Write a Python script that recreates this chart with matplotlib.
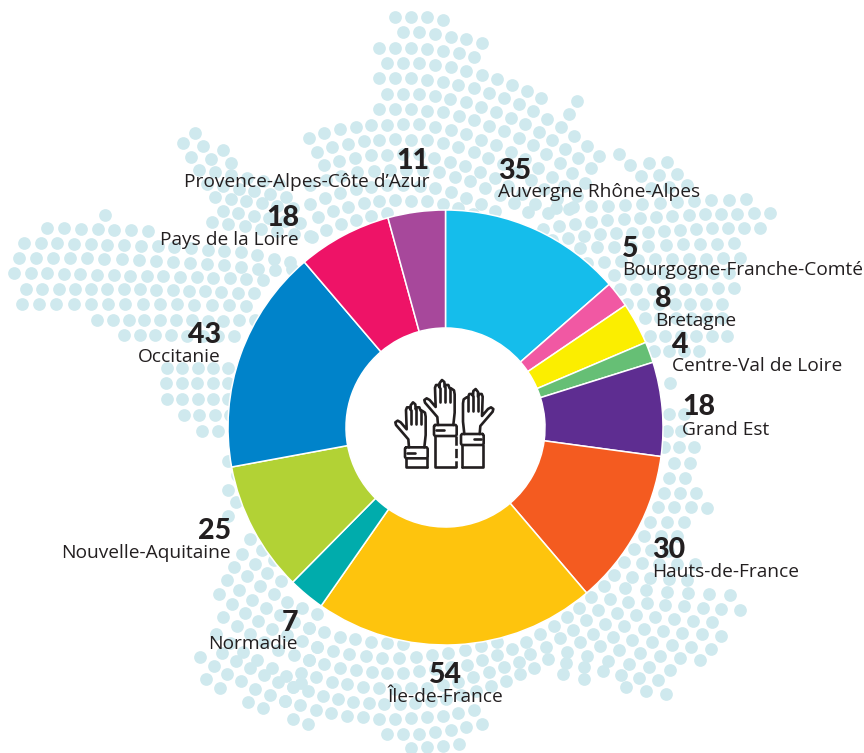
import numpy as np
import matplotlib
matplotlib.use("Agg")
import matplotlib.pyplot as plt

plt.rcParams['font.family'] = ['Open Sans', 'DejaVu Sans']

regions = ["Auvergne Rhône-Alpes", "Bourgogne-Franche-Comté", "Bretagne", "Centre-Val de Loire",
           "Grand Est", "Hauts-de-France", "Île-de-France", "Normadie", "Nouvelle-Aquitaine",
           "Occitanie", "Pays de la Loire", "Provence-Alpes-Côte d’Azur"]
values = [35, 5, 8, 4, 18, 30, 54, 7, 25, 43, 18, 11]
colors = ["#15BDEB", "#F158A3", "#FBEE00", "#66BF75", "#5E2D91", "#F45B20",
          "#FEC40D", "#00ACAC", "#B2D235", "#0083CA", "#EE1367", "#A7489B"]

# label anchor: x, baseline of number, baseline of name, alignment
label_pos = [(498, 179, 197, "left"), (622, 257, 275, "left"), (655, 307, 326, "left"),
             (672, 353, 371, "left"), (682, 415, 435, "left"), (652, 558, 577, "left"),
             (445, 683, 702, "center"), (298, 631, 649, "right"), (231, 539, 558, "right"),
             (221, 343, 362, "right"), (299, 226, 245, "right"), (429, 169, 187, "right")]

# background dots (France shape)
dot_rows = [
    # top
    [(395, 17), (427, 17), (443, 20)],
    [(403, 32), (419, 32), (436, 34), (451, 37), (466, 39), (482, 43)],
    [(379, 48), (411, 48), (427, 49), (443, 51), (459, 53), (474, 57)],
    [(387, 63), (419, 63), (436, 65), (451, 67), (466, 71), (482, 75), (497, 79), (512, 85), (527, 91), (541, 98)],
    [(379, 78), (411, 78), (443, 82), (474, 88), (504, 98), (534, 111), (561, 127), (587, 146), (599, 156)],
    [(387, 94), (419, 94), (436, 96), (466, 102), (497, 112), (526, 124), (554, 141), (579, 159), (591, 168)],
    [(379, 109), (411, 109), (443, 112), (474, 120), (504, 131), (533, 145), (559, 163), (585, 183)],
    [(309, 138), (324, 133), (340, 129), (371, 125), (419, 124), (436, 127), (466, 134), (496, 145), (525, 159), (551, 176), (577, 196)],
    [(317, 152), (332, 147), (363, 141), (395, 139), (427, 140), (443, 143), (474, 152), (503, 164), (531, 180), (557, 199), (569, 209)],
    [(324, 165), (340, 161), (371, 155), (419, 154), (436, 158), (466, 166), (495, 178), (522, 194), (548, 213)],
    [(310, 185), (325, 180), (356, 172), (387, 170), (419, 170), (443, 173), (473, 182), (501, 195), (528, 212)],
    [(310, 204), (325, 198), (340, 193), (364, 187), (395, 185), (427, 186), (451, 192), (481, 204), (495, 211)],
    [(318, 217), (333, 211), (363, 203), (395, 200), (427, 201), (459, 208), (473, 214)],
    [(312, 237), (326, 230), (340, 224), (372, 216), (387, 213)],
    # bottom
    [(309, 628), (340, 637), (371, 642), (403, 644)],
    [(317, 647), (347, 654), (379, 658), (411, 658), (443, 654), (474, 648), (497, 642)],
    [(309, 660), (340, 668), (371, 672), (403, 673), (436, 669), (466, 665), (497, 655)],
    [(301, 673), (332, 682), (363, 687), (395, 689), (427, 688), (459, 682), (490, 671), (519, 662)],
    [(293, 687), (324, 696), (355, 702), (387, 704), (419, 703), (451, 698), (482, 690), (512, 678), (534, 668)],
    [(285, 701), (316, 710), (347, 716), (379, 719), (411, 718), (443, 716), (474, 710)],
    [(293, 719), (308, 724)],
    [(387, 734), (419, 734), (451, 730), (482, 724)],
    [(411, 748), (443, 746), (459, 744)],
    # lower left
    [(200, 657), (227, 674), (256, 689), (285, 701)],
    [(206, 679), (220, 688)],
    [(248, 702), (263, 708)],
    [(222, 653), (249, 668), (278, 682), (293, 687)],
    [(216, 634), (243, 652), (271, 668), (301, 683)],
    [(223, 617), (250, 634), (278, 650), (309, 660)],
    [(219, 594), (244, 613), (272, 629), (317, 647)],
    [(227, 580), (252, 600), (279, 615), (309, 628)],
    [(234, 567), (260, 586), (287, 602), (317, 614)],
    [(242, 554), (267, 573), (281, 581)],
    [(250, 539), (274, 560)],
]
left_rows = [
    [(183, 143), (203, 146), (223, 150)],
    [(191, 157), (211, 159), (231, 163)],
    [(199, 170), (219, 173), (259, 180), (279, 184)],
    [(207, 184), (246, 190), (286, 197)],
    [(215, 197), (254, 202), (293, 208)],
    [(223, 211), (262, 217), (300, 223)],
    [(212, 222), (250, 227), (310, 236)],
    [(47, 228), (97, 229), (148, 231)],
    [(24, 243), (57, 243), (90, 244), (123, 245), (157, 246), (240, 252), (290, 262)],
    [(19, 258), (46, 258), (78, 258), (110, 259), (143, 260), (193, 263), (245, 267), (263, 270), (292, 269)],
    [(14, 273), (46, 273), (78, 274), (110, 275), (143, 276), (193, 277), (245, 279), (263, 280)],
    [(26, 289), (73, 289), (121, 289), (170, 290), (220, 292), (254, 293)],
    [(22, 304), (69, 304), (116, 304), (164, 304), (213, 305), (246, 306)],
    [(97, 320), (128, 320), (191, 320), (223, 321), (255, 320)],
    [(124, 335), (156, 335), (187, 336), (234, 336)],
    [(167, 368), (228, 368)],
    [(166, 383), (228, 383)],
    [(167, 399), (228, 399)],
    [(184, 415), (230, 415)],
    [(202, 431), (218, 431)],
    # right shoulder
    [(619, 154), (630, 165), (641, 177), (651, 188)],
    [(649, 163), (659, 175), (669, 187)],
    [(667, 162), (677, 174), (687, 185)],
    [(556, 208), (600, 206), (640, 204), (680, 202), (713, 200), (746, 199)],
    [(543, 229), (579, 223), (616, 219), (651, 217), (686, 215), (720, 214), (770, 213)],
    [(552, 240), (589, 235), (624, 233), (659, 231), (694, 229), (727, 228), (760, 228)],
    [(580, 248), (614, 247), (650, 246), (684, 244), (717, 244), (734, 243)],
    [(587, 263), (622, 261), (657, 259), (690, 259), (723, 258), (740, 258)],
    [(614, 275), (665, 273), (729, 273)],
    [(620, 289), (670, 289), (734, 288)],
    [(627, 304), (722, 304)],
    [(645, 318), (722, 318)],
    [(650, 336), (727, 336)],
    [(654, 351), (699, 351)],
    # right side
    [(669, 414), (684, 414)],
    [(667, 431), (681, 431)],
    [(664, 447), (694, 447)],
    [(674, 463), (690, 463)],
    [(669, 478), (685, 478)],
    [(664, 493), (696, 493)],
    [(658, 507), (690, 507), (707, 508)],
    [(650, 522), (684, 522)],
    [(644, 536), (677, 536)],
    [(634, 549), (668, 551)],
    [(624, 562), (660, 564), (695, 564)],
    [(614, 575), (650, 578), (687, 580)],
]
# lower right fan, dots sit further apart here
fan_rows = [
    [(604, 586), (640, 589), (677, 593), (730, 595)],
    [(591, 597), (630, 602), (667, 605), (704, 608), (740, 610)],
    [(579, 608), (619, 613), (657, 617), (694, 621), (712, 622)],
    [(567, 617), (607, 624), (646, 629), (684, 633), (721, 636)],
    [(554, 626), (595, 634), (635, 640), (673, 645), (711, 649)],
    [(540, 634), (582, 643), (623, 651), (662, 656), (700, 660)],
    [(526, 642), (569, 652), (610, 661), (650, 667), (670, 670)],
    [(512, 649), (555, 661), (597, 670), (638, 678), (658, 680)],
    [(563, 674), (584, 679)],
    [(626, 687), (646, 691), (666, 694)],
]
single_dots = [(195, 133), (105, 215), (577, 101), (569, 114), (228, 461), (670, 383), (237, 475), (228, 490), (236, 502), (228, 516)]


def resample(pts, step=16.2):
    pts = np.array(pts, dtype=float)
    d = np.r_[0, np.cumsum(np.hypot(*np.diff(pts, axis=0).T))]
    n = max(int(round(d[-1] / step)) + 1, 2)
    t = np.linspace(0, d[-1], n)
    return np.interp(t, d, pts[:, 0]), np.interp(t, d, pts[:, 1])


# one hand with cuff and sleeve, coordinates from the zoomed icon
hand_outline = [(117, 262), (115, 238), (78, 195), (76, 187), (83, 182), (92, 187), (110, 208), (108, 150),
                (111, 142), (118, 142), (122, 150), (122, 136), (129, 127), (136, 133), (137, 148), (141, 142),
                (148, 142), (152, 152), (156, 152), (165, 158), (167, 170), (167, 225), (163, 262)]
hand_fingers = [[(122, 150), (122, 192)], [(137, 148), (137, 192)], [(152, 152), (152, 192)]]
cuff = [(108, 262), (170, 262), (173, 266), (173, 291), (170, 295), (108, 295), (105, 291), (105, 266), (108, 262)]
cuff_mark = [(112, 278), (134, 278)]

fig = plt.figure(figsize=(8.64, 7.53), dpi=100)
ax = fig.add_axes([0, 0, 1, 1])

for rows, step in [(dot_rows, 16.0), (left_rows, 16.6), (fan_rows, 19.6)]:
    for row in rows:
        xs, ys = resample(row, step)
        ax.scatter(xs, ys, s=84, color="#CFE9EE", linewidths=0, zorder=1)
ax.scatter(*zip(*single_dots), s=84, color="#CFE9EE", linewidths=0, zorder=1)

wedges, _ = ax.pie(values, colors=colors, startangle=-90, counterclock=True, radius=217.5,
                   center=(445.5, 427.5), wedgeprops=dict(width=118, edgecolor="white", linewidth=1.1))
for w in wedges:
    w.set_zorder(2)


def icon_line(pts, mirror=False, dx=0, dy=0, **kw):
    pts = np.array(pts, dtype=float)
    x = pts[:, 0]
    if mirror:
        x = 446 - x
    ax.plot(370 + (x + dx) / 3, 360 + (pts[:, 1] + dy) / 3, color="#231F20", lw=1.9,
            solid_capstyle="round", solid_joinstyle="round", zorder=4, **kw)


for mirror, dx, dy, tall in [(False, 0, 0, 0), (False, 87, -67, 67), (True, 0, -40, 40)]:
    icon_line(hand_outline, mirror, dx, dy)
    for f in hand_fingers:
        icon_line(f, mirror, dx, dy)
    icon_line(cuff, mirror, dx, dy)
    icon_line(cuff_mark, mirror, dx, dy)
    icon_line([(108, 295), (108, 322 + tall), (170, 322 + tall)], mirror, dx, dy)
    if tall == 67:
        icon_line([(170, 295), (170, 322 + tall)], mirror, dx, dy, linestyle=(0, (3.5, 1.2)))
    else:
        icon_line([(170, 295), (170, 322 + tall)], mirror, dx, dy)

for name, val, (x, yn, yl, ha) in zip(regions, values, label_pos):
    ax.text(x, yn, str(val), ha=ha, va="baseline", fontsize=20.5, fontweight="black",
            family=['Lato', 'DejaVu Sans'], color="#231F20", zorder=5)
    ax.text(x, yl, name, ha=ha, va="baseline", fontsize=13.75, color="#231F20", zorder=5)

ax.set_xlim(0, 864)
ax.set_ylim(753, 0)
ax.set_aspect("equal")
ax.axis("off")
fig.savefig("out.png", dpi=100, facecolor="white")
